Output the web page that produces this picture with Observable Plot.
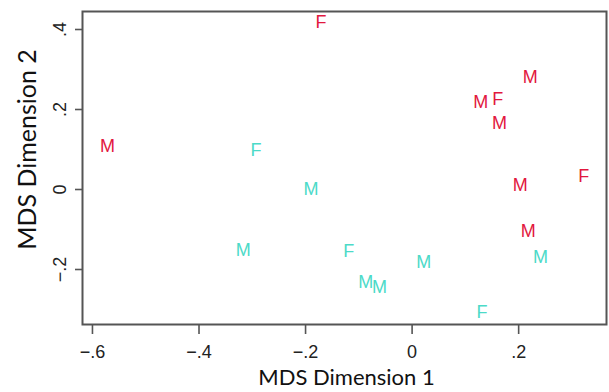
<!DOCTYPE html>
<html>
<head>
<meta charset="utf-8">
<script src="https://cdn.jsdelivr.net/npm/d3@7"></script>
<script src="https://cdn.jsdelivr.net/npm/@observablehq/plot@0.6"></script>
<style>
  html, body { margin: 0; padding: 0; background: #fff; }
</style>
</head>
<body>
<div id="chart"></div>
<script>
// Labels drawn at each point (sex)
const sex = ["M","F","M","M","F","M","M","F","M",
             "F","M","M","F","M","M","M","F","M"];
// Group (colour)
const group = ["G1","G1","G1","G1","G1","G1","G1","G1","G1",
               "G2","G2","G2","G2","G2","G2","G2","G2","G2"];
// MDS Dimension 1
const dim1 = [-0.572,-0.171,0.222,0.129,0.161,0.164,0.203,0.322,0.218,
              -0.293,-0.190,-0.317,-0.119,-0.087,-0.061,0.022,0.131,0.241];
// MDS Dimension 2
const dim2 = [0.1075,0.4175,0.280,0.2175,0.225,0.165,0.010,0.0325,-0.105,
              0.0975,0.000,-0.1525,-0.155,-0.2325,-0.245,-0.1825,-0.3075,-0.170];

const xTicks = [-0.6,-0.4,-0.2,0,0.2];
const yTicks = [-0.2,0,0.2,0.4];
const xTitle = ["MDS Dimension 1"];
const yTitle = ["MDS Dimension 2"];

const data = sex.map((s, i) => ({sex: s, group: group[i], x: dim1[i], y: dim2[i]}));
const fmt = d => d === 0 ? "0" : (d < 0 ? "\u2212" : "") + String(Math.abs(d)).replace(/^0/, "");

const chart = Plot.plot({
  width: 609,
  height: 392,
  marginLeft: 82,
  marginRight: 3,
  marginTop: 11,
  marginBottom: 68,
  x: {domain: [-0.6187, 0.3649]},
  y: {domain: [-0.3375, 0.445]},
  color: {domain: ["G1","G2"], range: ["#e2183e", "#4cdac8"]},
  style: {background: "#fff", overflow: "visible"},
  marks: [
    Plot.axisX(xTicks, {tickSize: 10, tickPadding: 11, tickFormat: fmt, fontSize: 18,
      fontFamily: "Liberation Sans, Arial, sans-serif", color: "#222", stroke: "#555", strokeWidth: 1.6, label: null}),
    Plot.axisY(yTicks, {tickSize: 7, tickFormat: () => "", stroke: "#555", strokeWidth: 1.6, label: null}),
    Plot.text(yTicks, {y: d => d, frameAnchor: "left", textAnchor: "middle", dx: -22, rotate: -90, text: fmt,
      fontSize: 18, fontFamily: "Liberation Sans, Arial, sans-serif", fill: "#222"}),
    Plot.frame({stroke: "#555", strokeWidth: 2}),
    Plot.text(data, {x: "x", y: "y", text: "sex", fill: "group", fontSize: 18,
      fontFamily: "Liberation Sans, Arial, sans-serif"}),
    Plot.text(xTitle, {text: d => d, frameAnchor: "bottom", dy: 60, dx: 2, fontSize: 22,
      fontFamily: "Lato, sans-serif", fill: "#111"}),
    Plot.text(yTitle, {text: d => d, frameAnchor: "left", textAnchor: "middle", dx: -55, dy: -18.5, rotate: -90, fontSize: 25,
      fontFamily: "Lato, sans-serif", fill: "#111"})
  ]
});
document.getElementById("chart").appendChild(chart);
</script>
</body>
</html>
